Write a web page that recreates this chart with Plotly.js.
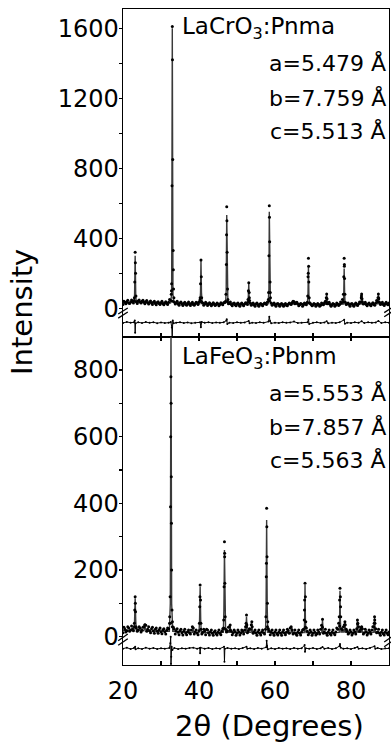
<!DOCTYPE html>
<html>
<head>
<meta charset="utf-8">
<script src="https://cdn.plot.ly/plotly-3.0.1.min.js"></script>
<style>html,body{margin:0;padding:0;background:#fff;}#chart{width:391px;height:747px;}</style>
</head>
<body>
<div id="chart"></div>
<script>
// ---------- LaCrO3 (top panel) ----------
const crBgX = [20,20.5,21,21.5,22,22.5,23,23.5,24,24.5,25,25.5,26,26.5,27,27.5,28,28.5,29,29.5,30,30.5,31,31.5,32,32.5,33,33.5,34,34.5,35,35.5,36,36.5,37,37.5,38,38.5,39,39.5,40,40.5,41,41.5,42,42.5,43,43.5,44,44.5,45,45.5,46,46.5,47,47.5,48,48.5,49,49.5,50,50.5,51,51.5,52,52.5,53,53.5,54,54.5,55,55.5,56,56.5,57,57.5,58,58.5,59,59.5,60,60.5,61,61.5,62,62.5,63,63.5,64,64.5,65,65.5,66,66.5,67,67.5,68,68.5,69,69.5,70,70.5,71,71.5,72,72.5,73,73.5,74,74.5,75,75.5,76,76.5,77,77.5,78,78.5,79,79.5,80,80.5,81,81.5,82,82.5,83,83.5,84,84.5,85,85.5,86,86.5,87,87.5,88,88.5,89,89.5,90];
const crBgY = [22,34,38,30,36,40,44,38,42,36,40,34,38,32,36,30,34,28,33,27,31,26,30,28,34,46,40,36,30,26,30,24,28,22,27,23,28,22,26,30,36,40,30,24,28,22,26,21,25,20,25,22,26,32,40,38,28,22,26,20,24,19,24,20,25,30,36,30,24,20,24,19,23,20,24,28,36,42,30,24,20,24,19,23,19,22,18,23,26,32,38,30,24,20,24,20,26,34,30,22,19,23,19,22,18,24,30,36,28,22,19,23,19,24,22,30,38,34,26,21,24,19,23,20,26,34,38,28,22,25,20,24,22,30,38,34,26,22,26,24,30];
const crBgX2 = [20.25,20.75,21.25,21.75,22.25,22.75,23.25,23.75,24.25,24.75,25.25,25.75,26.25,26.75,27.25,27.75,28.25,28.75,29.25,29.75,30.25,30.75,31.25,31.75,32.25,32.75,33.25,33.75,34.25,34.75,35.25,35.75,36.25,36.75,37.25,37.75,38.25,38.75,39.25,39.75,40.25,40.75,41.25,41.75,42.25,42.75,43.25,43.75,44.25,44.75,45.25,45.75,46.25,46.75,47.25,47.75,48.25,48.75,49.25,49.75,50.25,50.75,51.25,51.75,52.25,52.75,53.25,53.75,54.25,54.75,55.25,55.75,56.25,56.75,57.25,57.75,58.25,58.75,59.25,59.75,60.25,60.75,61.25,61.75,62.25,62.75,63.25,63.75,64.25,64.75,65.25,65.75,66.25,66.75,67.25,67.75,68.25,68.75,69.25,69.75,70.25,70.75,71.25,71.75,72.25,72.75,73.25,73.75,74.25,74.75,75.25,75.75,76.25,76.75,77.25,77.75,78.25,78.75,79.25,79.75,80.25,80.75,81.25,81.75,82.25,82.75,83.25,83.75,84.25,84.75,85.25,85.75,86.25,86.75,87.25,87.75,88.25,88.75,89.25,89.75];
const crBgY2 = [40,26,46,28,48,30,260,28,48,30,46,26,44,24,42,22,40,20,38,22,40,20,38,22,50,100,220,24,40,18,36,16,34,18,36,16,34,18,34,22,48,34,18,34,16,32,14,32,16,30,14,32,20,34,420,26,36,14,30,14,30,12,30,14,32,22,60,18,30,12,30,12,28,14,30,22,50,90,18,30,12,28,12,28,12,28,14,30,22,40,26,34,14,28,12,30,20,200,30,14,28,12,28,12,30,20,40,26,34,12,28,12,30,16,36,50,240,22,30,12,28,12,30,16,36,70,24,34,14,30,14,32,18,44,60,22,34,16,34,20];
const crPkX = [23.0,23.1,23.2,23.3,23.4, 32.7,32.8,32.9,32.97,33.02,33.1,33.2,33.3,33.4, 40.3,40.4,40.52,40.6,40.7, 47.1,47.2,47.3,47.35,47.4,47.5,47.6, 52.9,53.0,53.1,53.2,53.3, 58.3,58.4,58.5,58.55,58.6,58.7,58.8, 68.6,68.7,68.8,68.85,68.9,69.0, 73.5,73.6,73.7, 78.0,78.1,78.2,78.25,78.3,78.4, 82.7,82.8,82.9, 87.1,87.2,87.3];
const crPkY = [60,150,320,200,70, 80,140,700,1610,1420,850,330,110,60, 60,140,276,180,60, 80,250,580,500,320,110,50, 50,100,146,90,45, 90,300,586,520,380,150,60, 70,180,286,240,150,60, 60,82,55, 80,180,286,250,170,80, 60,82,55, 60,82,55];
const crCalcX = [20,22.9,23.05,23.2,23.35,23.5,32.5,32.8,32.97,33.15,33.4,40.2,40.4,40.52,40.65,40.85,47.0,47.15,47.3,47.45,47.6,52.9,53.0,53.1,53.2,53.35,58.2,58.4,58.5,58.62,58.8,64.8,65.2,65.6,68.5,68.68,68.8,68.92,69.1,73.4,73.6,73.8,78.0,78.1,78.2,78.32,78.45,82.6,82.8,83.0,87.0,87.2,87.4,90];
const crCalcY = [30,34,80,300,80,34,30,80,1600,80,32,26,90,270,90,26,28,100,533,100,30,24,60,140,60,24,26,110,552,110,26,24,38,24,24,80,238,80,24,23,80,23,24,90,228,90,25,24,80,24,26,80,26,28];
const crDiffX = [20,21,22,22.9,23.1,23.2,23.3,24,25,26,27,28,29,30,31,32,32.6,32.85,32.95,33.1,33.3,34,35,36,37,38,39,40.3,40.5,40.7,41.5,42.5,43.5,44.5,45.5,46.5,47.2,47.3,47.45,48,49,50,51,52,53.1,53.3,54,55,56,57,58.3,58.5,58.7,59,60,61,62,63,64,65,66,67,68.6,68.8,69,70,71,72,73,73.6,74,75,76,77,78.2,78.4,79,80,81,82,82.8,83.5,84.5,85.5,86.5,87.2,88,89,90];
const crDiffY = [-84,-78,-82,-80,-70,-140,-86,-80,-84,-79,-83,-80,-85,-81,-84,-82,-78,-110,-165,-70,-86,-82,-80,-84,-81,-85,-82,-80,-108,-78,-83,-80,-84,-81,-83,-80,-70,-62,-90,-82,-84,-80,-83,-81,-72,-86,-82,-84,-80,-83,-76,-48,-72,-86,-82,-84,-80,-83,-81,-76,-84,-82,-80,-64,-90,-83,-80,-84,-81,-74,-86,-82,-84,-80,-66,-88,-82,-84,-80,-83,-74,-84,-80,-83,-81,-72,-84,-80,-82];

// ---------- LaFeO3 (bottom panel) ----------
const feBgX = crBgX.slice();
const feBgY = [12,22,18,26,20,24,30,26,20,25,19,30,34,22,18,24,17,22,16,21,15,20,15,19,24,40,30,22,17,13,18,12,16,11,15,12,20,26,14,11,18,22,13,17,22,12,15,10,14,9,13,10,16,26,22,18,30,16,12,15,10,14,11,16,20,30,18,22,30,15,11,14,10,14,12,22,30,18,13,10,14,9,13,10,14,11,13,18,26,20,12,9,13,10,14,22,28,16,11,14,10,13,9,14,22,28,14,10,13,9,13,10,14,22,32,24,30,36,16,11,14,10,15,24,30,22,24,12,15,10,14,20,30,24,14,10,13,9,13,10,14];
const feBgX2 = crBgX2.slice();
const feBgY2 = [28,14,30,16,32,18,100,16,30,14,28,36,16,30,12,28,10,26,10,26,9,24,8,26,40,340,28,8,24,6,22,5,22,6,20,8,30,8,20,6,120,8,22,6,20,5,20,4,18,5,20,6,24,250,14,28,20,6,20,4,20,5,20,8,30,12,24,36,10,20,4,20,5,20,8,220,24,6,20,4,20,5,20,4,20,6,22,10,30,8,20,4,20,5,20,80,26,6,20,4,20,5,20,8,34,10,22,4,20,5,20,6,26,40,90,20,36,22,8,20,5,20,8,38,16,28,8,22,5,20,8,30,50,12,22,4,20,5,20,6];
const fePkX = [23.0,23.1,23.2,23.3,23.4, 25.8, 32.3,32.4,32.5,32.55,32.6,32.65,32.7,32.8,32.9,33.0, 40.1,40.2,40.3,40.4,40.5, 46.5,46.6,46.7,46.75,46.8,46.9, 48.2, 52.4,52.5,52.6, 53.9, 57.6,57.7,57.8,57.85,57.9,58.0,58.1, 67.7,67.8,67.9,68.0,68.1, 72.5, 76.9,77.0,77.1,77.2,77.3, 78.4, 81.7,81.8, 82.8, 86.1,86.2,86.3];
const fePkY = [40,80,120,75,30, 35, 60,120,390,600,780,700,480,200,80,45, 40,90,155,110,40, 50,150,285,240,160,60, 35, 40,65,35, 45, 60,180,385,330,240,100,45, 50,110,160,120,45, 52, 60,110,145,120,60, 45, 50,40, 30, 40,60,40];
const feCalcX = [20,22.9,23.05,23.2,23.35,23.5,25.5,25.8,26.1,32.2,32.45,32.63,32.8,33.1,38.3,38.5,38.7,40.0,40.15,40.3,40.45,40.6,46.4,46.55,46.7,46.85,47.0,48.0,48.2,48.4,52.3,52.5,52.7,53.7,53.9,54.1,57.5,57.65,57.8,57.95,58.1,64.2,64.4,64.6,67.7,67.8,67.9,68.0,68.15,72.3,72.5,72.7,76.9,77.0,77.1,77.2,77.35,78.2,78.4,78.6,81.5,81.7,81.9,82.6,82.8,83.0,86.0,86.2,86.4,90];
const feCalcY = [18,20,50,115,50,20,18,30,17,16,100,960,100,16,13,22,12,12,50,150,50,12,13,80,260,80,14,13,30,13,13,60,13,13,40,12,13,90,350,90,13,12,28,12,12,50,155,50,12,12,50,12,13,50,138,50,14,14,42,13,13,48,13,13,28,13,13,56,13,13];
const feDiffX = [20,21,22,22.9,23.2,23.3,24,25,26,27,28,29,30,31,32.2,32.45,32.55,32.63,32.7,32.8,33.0,33.5,34.5,35.5,36.5,37.5,38.5,39.5,40.2,40.3,40.4,41.5,42.5,43.5,44.5,45.5,46.6,46.7,46.8,47.5,48.5,49.5,50.5,51.5,52.5,52.7,53.5,54.5,55.5,56.5,57.7,57.8,57.9,58.1,59,60,61,62,63,64,65,66,67,67.8,67.9,68.1,69,70,71,72,72.5,73,74,75,76,77.0,77.1,77.3,78,79,80,81,81.7,82,83,84,85,86.2,86.4,87,88,89,90];
const feDiffY = [-36,-33,-37,-34,-30,-38,-35,-37,-33,-36,-34,-37,-35,-36,-34,-20,0,-82,-60,-30,-40,-34,-37,-35,-36,-34,-33,-36,-34,-50,-33,-36,-34,-37,-35,-36,-30,-75,-36,-34,-36,-35,-37,-34,-30,-36,-35,-37,-34,-36,-32,-12,-28,-38,-35,-37,-34,-36,-35,-37,-34,-36,-35,-25,-45,-35,-36,-34,-37,-35,-31,-36,-34,-37,-35,-28,-22,-33,-36,-35,-37,-34,-31,-36,-35,-37,-34,-29,-36,-34,-37,-35,-35];

const xTicks = [20,40,60,80];
const crTicks = [0,400,800,1200,1600];
const feTicks = [0,200,400,600,800];
const crLabels = ['LaCrO<sub>3</sub>:Pnma','a=5.479 Å','b=7.759 Å','c=5.513 Å'];
const feLabels = ['LaFeO<sub>3</sub>:Pbnm','a=5.553 Å','b=7.857 Å','c=5.563 Å'];

const FONT = 'DejaVu Sans, Liberation Sans, Arial, sans-serif';
const obsMarker = {color:'#000', size:3};
const calcLine = {color:'#3a3a3a', width:1.4};
const diffStyle = {color:'#000', width:1};
const diffMarker = {color:'#000', size:2};

const traces = [
  {x: crCalcX, y: crCalcY, xaxis:'x', yaxis:'y', mode:'lines', line: calcLine},
  {x: crBgX.concat(crBgX2, crPkX), y: crBgY.concat(crBgY2, crPkY), xaxis:'x', yaxis:'y', mode:'markers', marker: obsMarker},
  {x: crDiffX, y: crDiffY, xaxis:'x', yaxis:'y', mode:'lines+markers', line: diffStyle, marker: diffMarker},
  {x: feCalcX, y: feCalcY, xaxis:'x2', yaxis:'y2', mode:'lines', line: calcLine},
  {x: feBgX.concat(feBgX2, fePkX), y: feBgY.concat(feBgY2, fePkY), xaxis:'x2', yaxis:'y2', mode:'markers', marker: obsMarker},
  {x: feDiffX, y: feDiffY, xaxis:'x2', yaxis:'y2', mode:'lines+markers', line: diffStyle, marker: diffMarker}
];

const axBase = {showgrid:false, zeroline:false, linecolor:'#000', linewidth:1.4, tickcolor:'#000', tickwidth:1.3,
  tickfont:{family:FONT, size:24, color:'#000'}};
const cr = [-164, 1710];
const fe = [-85, 899];

const layout = {
  width:391, height:747,
  margin:{l:123, r:2, t:9, b:82},
  paper_bgcolor:'#fff', plot_bgcolor:'#fff',
  showlegend:false,
  font:{family:FONT, color:'#000'},
  xaxis: Object.assign({}, axBase, {domain:[0,1], anchor:'y', range:[20,90], tickvals:[20,30,40,50,60,70,80],
    ticks:'inside', ticklen:4, showticklabels:false, showline:true, mirror:true}),
  yaxis: Object.assign({}, axBase, {domain:[0.5,1], anchor:'x', range:cr, tickvals:crTicks,
    ticks:'outside', ticklen:3, showline:true, mirror:true, ticklabelstandoff:-5,
    minor:{tickvals:[200,600,1000,1400], ticks:'outside', ticklen:3, tickcolor:'#000', tickwidth:1.2}}),
  yaxis3: Object.assign({}, axBase, {overlaying:'y', anchor:'x', side:'left', range:cr, tickvals:crTicks,
    ticks:'inside', ticklen:3, showticklabels:false, showline:false,
    minor:{tickvals:[200,600,1000,1400], ticks:'inside', ticklen:3, tickcolor:'#000', tickwidth:1.2}}),
  xaxis2: Object.assign({}, axBase, {domain:[0,1], anchor:'y2', range:[20,90], tickvals:xTicks,
    ticks:'inside', ticklen:4, showline:true, mirror:'ticks', ticklabelstandoff:4,
    minor:{tickvals:[30,50,70], ticks:'inside', ticklen:4, tickcolor:'#000', tickwidth:1.2}}),
  xaxis3: Object.assign({}, axBase, {overlaying:'x2', anchor:'y2', range:[20,90], tickvals:xTicks,
    ticks:'outside', ticklen:3, showticklabels:false, showline:false,
    minor:{tickvals:[30,50,70], ticks:'outside', ticklen:3, tickcolor:'#000', tickwidth:1.2}}),
  yaxis2: Object.assign({}, axBase, {domain:[0,0.5], anchor:'x2', range:fe, tickvals:feTicks,
    ticks:'outside', ticklen:3, showline:true, mirror:true, ticklabelstandoff:-5,
    minor:{tickvals:[100,300,500,700], ticks:'outside', ticklen:3, tickcolor:'#000', tickwidth:1.2}}),
  yaxis4: Object.assign({}, axBase, {overlaying:'y2', anchor:'x2', side:'left', range:fe, tickvals:feTicks,
    ticks:'inside', ticklen:3, showticklabels:false, showline:false,
    minor:{tickvals:[100,300,500,700], ticks:'inside', ticklen:3, tickcolor:'#000', tickwidth:1.2}}),
  shapes: [
    {type:'line', xref:'x domain', yref:'y', x0:-0.018, x1:0.018, y0:-33, y1:2, line:{color:'#000', width:1.3}},
    {type:'line', xref:'x domain', yref:'y', x0:-0.018, x1:0.018, y0:-56, y1:-21, line:{color:'#000', width:1.3}},
    {type:'line', xref:'x domain', yref:'y', x0:0.982, x1:1.018, y0:-25, y1:10, line:{color:'#000', width:1.3}},
    {type:'line', xref:'x domain', yref:'y', x0:0.982, x1:1.018, y0:-48, y1:-13, line:{color:'#000', width:1.3}},
    {type:'line', xref:'x2 domain', yref:'y2', x0:-0.018, x1:0.018, y0:-12, y1:8, line:{color:'#000', width:1.3}},
    {type:'line', xref:'x2 domain', yref:'y2', x0:-0.018, x1:0.018, y0:-26, y1:-6, line:{color:'#000', width:1.3}},
    {type:'line', xref:'x2 domain', yref:'y2', x0:0.982, x1:1.018, y0:-16, y1:4, line:{color:'#000', width:1.3}},
    {type:'line', xref:'x2 domain', yref:'y2', x0:0.982, x1:1.018, y0:-30, y1:-10, line:{color:'#000', width:1.3}}
  ],
  annotations: [
    {xref:'paper', yref:'paper', x:0.214, y:0.971, xanchor:'left', yanchor:'middle', showarrow:false, text:crLabels[0], font:{family:FONT, size:23, color:'#000'}},
    {xref:'paper', yref:'paper', x:0.995, y:0.918, xanchor:'right', yanchor:'middle', showarrow:false, text:crLabels[1], font:{family:FONT, size:22, color:'#000'}},
    {xref:'paper', yref:'paper', x:0.995, y:0.864, xanchor:'right', yanchor:'middle', showarrow:false, text:crLabels[2], font:{family:FONT, size:22, color:'#000'}},
    {xref:'paper', yref:'paper', x:0.995, y:0.814, xanchor:'right', yanchor:'middle', showarrow:false, text:crLabels[3], font:{family:FONT, size:22, color:'#000'}},
    {xref:'paper', yref:'paper', x:0.214, y:0.468, xanchor:'left', yanchor:'middle', showarrow:false, text:feLabels[0], font:{family:FONT, size:23, color:'#000'}},
    {xref:'paper', yref:'paper', x:0.995, y:0.415, xanchor:'right', yanchor:'middle', showarrow:false, text:feLabels[1], font:{family:FONT, size:22, color:'#000'}},
    {xref:'paper', yref:'paper', x:0.995, y:0.363, xanchor:'right', yanchor:'middle', showarrow:false, text:feLabels[2], font:{family:FONT, size:22, color:'#000'}},
    {xref:'paper', yref:'paper', x:0.995, y:0.3125, xanchor:'right', yanchor:'middle', showarrow:false, text:feLabels[3], font:{family:FONT, size:22, color:'#000'}},
    {xref:'paper', yref:'paper', x:-0.38, y:0.538, xanchor:'center', yanchor:'middle', textangle:-90, showarrow:false, text:'Intensity', font:{family:FONT, size:29, color:'#000'}},
    {xref:'paper', yref:'paper', x:0.549, y:-0.093, xanchor:'center', yanchor:'middle', showarrow:false, text:'2θ (Degrees)', font:{family:FONT, size:29, color:'#000'}}
  ]
};

Plotly.newPlot('chart', traces, layout, {staticPlot:true, displayModeBar:false});
</script>
</body>
</html>
